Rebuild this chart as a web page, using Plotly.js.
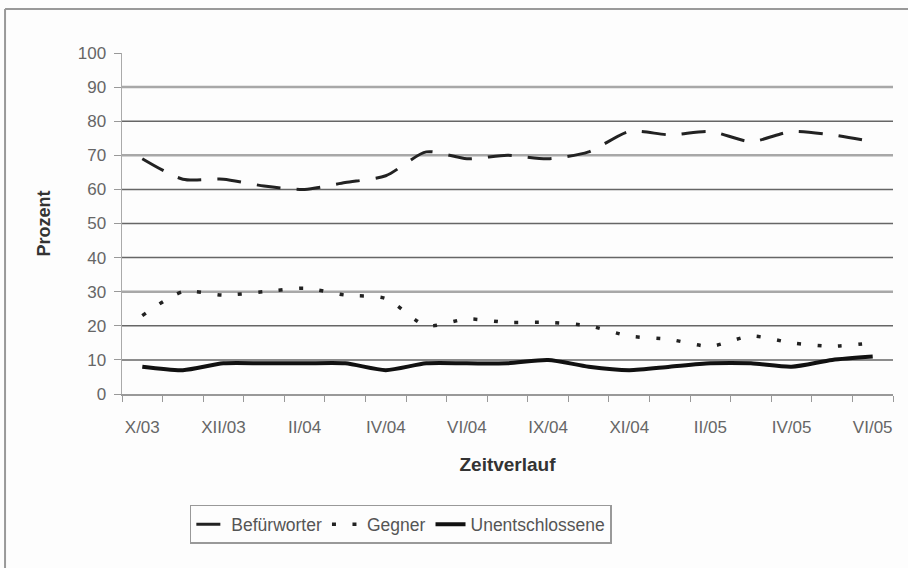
<!DOCTYPE html>
<html>
<head>
<meta charset="utf-8">
<script src="https://cdn.plot.ly/plotly-3.0.1.min.js"></script>
<style>html,body{margin:0;padding:0;background:#fff}#chart{width:908px;height:568px}</style>
</head>
<body>
<div id="chart"></div>
<script>
const categories = ["X/03","XI/03","XII/03","I/04","II/04","III/04","IV/04","V/04","VI/04","VII/04","IX/04","X/04","XI/04","I/05","II/05","III/05","IV/05","V/05","VI/05"];
const befuerworter = [69,63,63,61,60,62,64,71,69,70,69,71,77,76,77,74,77,76,74];
const gegner = [23,30,29,30,31,29,28,20,22,21,21,20,17,16,14,17,15,14,15];
const unentschlossene = [8,7,9,9,9,9,7,9,9,9,10,8,7,8,9,9,8,10,11];
const gridDark = [10,20,40,50,60,80];
const gridLight = [30,70,90];

const lineColor = "#222";
const traces = [
  {x: categories, y: befuerworter, name: "Befürworter", mode: "lines",
   line: {color: lineColor, width: 3, dash: "24px,16px", shape: "spline", smoothing: 0.7}},
  {x: categories, y: gegner, name: "Gegner", mode: "lines",
   line: {color: lineColor, width: 3.5, dash: "4px,16.5px", shape: "spline", smoothing: 0.7}},
  {x: categories, y: unentschlossene, name: "Unentschlossene", mode: "lines",
   line: {color: "#111", width: 4, shape: "spline", smoothing: 0.7}}
];

const shapes = [];
gridDark.forEach(v => shapes.push({type: "line", xref: "paper", yref: "y", x0: 0, x1: 1, y0: v, y1: v, layer: "below", line: {color: "#666", width: 1.5}}));
gridLight.forEach(v => shapes.push({type: "line", xref: "paper", yref: "y", x0: 0, x1: 1, y0: v, y1: v, layer: "below", line: {color: "#a8a8a8", width: 2.5}}));
// outer chart border (left & top visible)
shapes.push({type: "line", xref: "paper", yref: "paper", x0: -0.1517, x1: -0.1517, y0: 1.1293, y1: -0.6, line: {color: "#999", width: 2}});
shapes.push({type: "line", xref: "paper", yref: "paper", x0: -0.1517, x1: 1.1, y0: 1.1293, y1: 1.1293, line: {color: "#999", width: 2}});

const fam = "Liberation Sans, Arial, sans-serif";

const layout = {
  width: 908, height: 568,
  margin: {l: 122, r: 15, t: 53, b: 174},
  paper_bgcolor: "#fdfdfd", plot_bgcolor: "#fdfdfd",
  font: {family: fam, color: "#555", size: 16},
  showlegend: true,
  legend: {orientation: "h", x: 0.088, xanchor: "left", y: -0.325, yanchor: "top",
           bordercolor: "#999", borderwidth: 1.5, bgcolor: "#fdfdfd",
           font: {family: fam, size: 17.5, color: "#555"}, tracegroupgap: 0},
  xaxis: {type: "category", categoryorder: "array", categoryarray: categories,
          range: [-0.5, 18.5], tickson: "boundaries", ticks: "outside", ticklen: 6, tickcolor: "#999",
          ticklabelstep: 2, tickangle: 0, ticklabelstandoff: 17,
          showline: true, linecolor: "#999", linewidth: 1.5, showgrid: false, zeroline: false,
          tickfont: {family: fam, size: 17, color: "#666"},
          title: {text: "<b>Zeitverlauf</b>", standoff: 22, font: {family: fam, size: 19, color: "#333"}}},
  yaxis: {range: [0, 100], dtick: 10, tick0: 0, ticks: "outside", ticklen: 7, tickcolor: "#999",
          showline: true, linecolor: "#aaa", linewidth: 1.5, showgrid: false, zeroline: false,
          tickfont: {family: fam, size: 17, color: "#666"}, ticklabelstandoff: 4,
          title: {text: "<b>Prozent</b>", standoff: 22, font: {family: fam, size: 18, color: "#333"}}},
  shapes: shapes
};

Plotly.newPlot("chart", traces, layout, {displayModeBar: false, staticPlot: true});
</script>
</body>
</html>
